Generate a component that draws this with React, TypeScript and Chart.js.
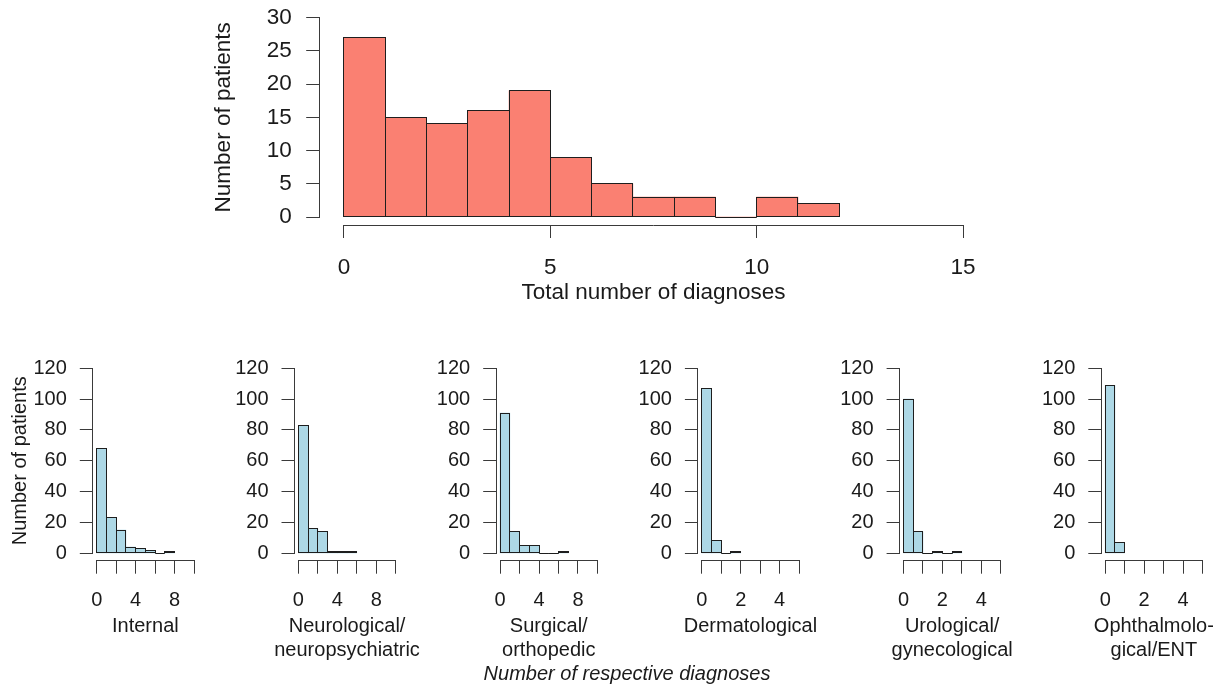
import React, { useEffect, useRef } from "react";
import { Chart, registerables } from "chart.js";

Chart.register(...registerables);

const FONT = "'Liberation Sans', Arial, Helvetica, sans-serif";
const TEXT = "#1a1a1a";
const AXIS = "#3a3a3a";
const EDGE = "#1e1e1e";
const SALMON = "#FA8072";
const LIGHTBLUE = "#ADD8E6";

// Total number of diagnoses per patient (bins of width 1)
const totalBreaks = [0, 1, 2, 3, 4, 5, 6, 7, 8, 9, 10, 11, 12];
const totalCounts = [27, 15, 14, 16, 19, 9, 5, 3, 3, 0, 3, 2];
const totalXTicks = [0, 5, 10, 15];
const totalYTicks = [0, 5, 10, 15, 20, 25, 30];

// Number of diagnoses per specialty
const internalBreaks = [0, 1, 2, 3, 4, 5, 6, 7, 8];
const internalCounts = [68, 23, 15, 4, 3, 2, 0, 1];
const neuroBreaks = [0, 1, 2, 3, 4, 5, 6];
const neuroCounts = [83, 16, 14, 1, 1, 1];
const surgicalBreaks = [0, 1, 2, 3, 4, 5, 6, 7];
const surgicalCounts = [91, 14, 5, 5, 0, 0, 1];
const dermBreaks = [0, 0.5, 1, 1.5, 2];
const dermCounts = [107, 8, 0, 1];
const uroBreaks = [0, 0.5, 1, 1.5, 2, 2.5, 3];
const uroCounts = [100, 14, 0, 1, 0, 1];
const ophthBreaks = [0, 0.5, 1];
const ophthCounts = [109, 7];

const wideXTicks = [0, 2, 4, 6, 8, 10];
const wideXLabels = [0, 4, 8];
const narrowXTicks = [0, 1, 2, 3, 4, 5];
const narrowXLabels = [0, 2, 4];
const smallYTicks = [0, 20, 40, 60, 80, 100, 120];

const specialtyNames = [
  ["Internal"],
  ["Neurological/", "neuropsychiatric"],
  ["Surgical/", "orthopedic"],
  ["Dermatological"],
  ["Urological/", "gynecological"],
  ["Ophthalmolo-", "gical/ENT"],
];
const specialtyBreaks = [internalBreaks, neuroBreaks, surgicalBreaks, dermBreaks, uroBreaks, ophthBreaks];
const specialtyCounts = [internalCounts, neuroCounts, surgicalCounts, dermCounts, uroCounts, ophthCounts];
const specialtyXTicks = [wideXTicks, wideXTicks, wideXTicks, narrowXTicks, narrowXTicks, narrowXTicks];
const specialtyXLabels = [wideXLabels, wideXLabels, wideXLabels, narrowXLabels, narrowXLabels, narrowXLabels];

type Area = { left: number; top: number; right: number; bottom: number };

type HistSpec = {
  breaks: number[];
  counts: number[];
  fill: string;
  xTicks: number[];
  xLabels: number[];
  yTicks: number[];
  fontSize: number;
  canvasW: number;
  canvasH: number;
  area: Area;
  tickLen: number;
  xTickPad: number;
  yTickPad: number;
  yTitle?: string;
  yTitleCenter?: number;
  xTitle?: string;
  xTitleCenter?: number;
  caption?: string[];
  captionOffset?: number;
};

// plot region spans the tick range plus 4% on each side
function rangeWithMargin(ticks: number[]) {
  const lo = ticks[0];
  const hi = ticks[ticks.length - 1];
  const m = (hi - lo) * 0.04;
  return { min: lo - m, max: hi + m };
}

function alignPx(v: number) {
  return Math.round(v - 0.5) + 0.5;
}

function histogramConfig(s: HistSpec): any {
  const lh = s.fontSize * 1.2;
  const xr = rangeWithMargin(s.xTicks);
  const yr = rangeWithMargin(s.yTicks);
  const padLeft = s.yTitle ? (s.yTitleCenter as number) - lh / 2 : 0;
  const padBottom = s.xTitle ? s.canvasH - ((s.xTitleCenter as number) + lh / 2) : 0;
  const yWidth = s.area.left - padLeft;
  const xHeight = s.canvasH - padBottom - s.area.bottom;
  const font = { family: FONT, size: s.fontSize, lineHeight: 1.2 };

  const data = s.counts.map((c, i) => ({ x: (s.breaks[i] + s.breaks[i + 1]) / 2, y: c }));

  const framePlugin = {
    id: "histFrame",
    afterDatasetsDraw(chart: any) {
      const { ctx, chartArea, scales } = chart;
      const x = scales.x;
      const y = scales.y;
      ctx.save();
      ctx.lineWidth = 1;
      ctx.lineCap = "butt";

      // each bin gets a thin outline, empty bins show as a flat line on the baseline
      ctx.strokeStyle = EDGE;
      const bars = chart.getDatasetMeta(0).data;
      bars.forEach((bar: any) => {
        const { x: cx, y: top, base, width } = bar.getProps(["x", "y", "base", "width"], true);
        const x1 = alignPx(cx - width / 2);
        const x2 = alignPx(cx + width / 2);
        const y1 = alignPx(top);
        const y2 = alignPx(base);
        ctx.strokeRect(x1, Math.min(y1, y2), x2 - x1, Math.abs(y2 - y1));
      });

      // axis lines run from the first to the last tick only
      ctx.strokeStyle = AXIS;
      const bx = alignPx(chartArea.bottom);
      ctx.beginPath();
      ctx.moveTo(alignPx(x.getPixelForValue(s.xTicks[0])) - 0.5, bx);
      ctx.lineTo(alignPx(x.getPixelForValue(s.xTicks[s.xTicks.length - 1])) + 0.5, bx);
      ctx.stroke();

      const ly = alignPx(chartArea.left);
      ctx.beginPath();
      ctx.moveTo(ly, alignPx(y.getPixelForValue(s.yTicks[0])) + 0.5);
      ctx.lineTo(ly, alignPx(y.getPixelForValue(s.yTicks[s.yTicks.length - 1])) - 0.5);
      ctx.stroke();

      // category caption under the x axis
      if (s.caption) {
        ctx.fillStyle = TEXT;
        ctx.font = `${s.fontSize}px ${FONT}`;
        ctx.textAlign = "center";
        ctx.textBaseline = "middle";
        const cx = (chartArea.left + chartArea.right) / 2;
        s.caption.forEach((line, k) => {
          ctx.fillText(line, cx, chartArea.bottom + (s.captionOffset as number) + k * lh);
        });
      }
      ctx.restore();
    },
  };

  const fixedTicks = (values: number[]) => (scale: any) => {
    scale.ticks = values.map((v) => ({ value: v }));
  };

  return {
    type: "bar",
    data: {
      datasets: [
        {
          data,
          backgroundColor: s.fill,
          borderWidth: 0,
          barPercentage: 1,
          categoryPercentage: 1,
        },
      ],
    },
    options: {
      responsive: false,
      animation: false,
      devicePixelRatio: 1,
      events: [],
      layout: {
        padding: {
          left: padLeft,
          top: s.area.top,
          right: s.canvasW - s.area.right,
          bottom: padBottom,
        },
      },
      plugins: {
        legend: { display: false },
        tooltip: { enabled: false },
      },
      scales: {
        x: {
          type: "linear",
          min: xr.min,
          max: xr.max,
          offset: false,
          afterBuildTicks: fixedTicks(s.xTicks),
          afterFit: (scale: any) => {
            scale.height = xHeight;
            scale.paddingLeft = 0;
            scale.paddingRight = 0;
          },
          grid: {
            display: true,
            offset: false,
            drawOnChartArea: false,
            drawTicks: true,
            tickLength: s.tickLen,
            color: AXIS,
            lineWidth: 1,
          },
          border: { display: false },
          ticks: {
            autoSkip: false,
            maxRotation: 0,
            minRotation: 0,
            padding: s.xTickPad,
            color: TEXT,
            font,
            callback: (v: number) => (s.xLabels.includes(v) ? String(v) : ""),
          },
          title: s.xTitle
            ? { display: true, text: s.xTitle, color: TEXT, font, padding: 0 }
            : { display: false },
        },
        y: {
          type: "linear",
          min: yr.min,
          max: yr.max,
          afterBuildTicks: fixedTicks(s.yTicks),
          afterFit: (scale: any) => {
            scale.width = yWidth;
            scale.paddingTop = 0;
            scale.paddingBottom = 0;
          },
          grid: {
            display: true,
            drawOnChartArea: false,
            drawTicks: true,
            tickLength: s.tickLen,
            color: AXIS,
            lineWidth: 1,
          },
          border: { display: false },
          ticks: {
            autoSkip: false,
            padding: s.yTickPad,
            color: TEXT,
            font,
            callback: (v: number) => String(v),
          },
          title: s.yTitle
            ? { display: true, text: s.yTitle, color: TEXT, font, padding: 0 }
            : { display: false },
        },
      },
    },
    plugins: [framePlugin],
  };
}

function Histogram({ spec, left, top }: { spec: HistSpec; left: number; top: number }) {
  const ref = useRef<HTMLCanvasElement | null>(null);
  useEffect(() => {
    const chart = new Chart(ref.current as HTMLCanvasElement, histogramConfig(spec));
    return () => chart.destroy();
  }, []);
  return (
    <canvas
      ref={ref}
      width={spec.canvasW}
      height={spec.canvasH}
      style={{ position: "absolute", left, top, width: spec.canvasW, height: spec.canvasH }}
    />
  );
}

const totalSpec: HistSpec = {
  breaks: totalBreaks,
  counts: totalCounts,
  fill: SALMON,
  xTicks: totalXTicks,
  xLabels: totalXTicks,
  yTicks: totalYTicks,
  fontSize: 22.5,
  canvasW: 1226,
  canvasH: 320,
  area: { left: 319.2, top: 9.7, right: 987.8, bottom: 225 },
  tickLen: 13,
  xTickPad: 16.5,
  yTickPad: 14.5,
  yTitle: "Number of patients",
  yTitleCenter: 224,
  xTitle: "Total number of diagnoses",
  xTitleCenter: 292.5,
};

const SMALL_TOP = 340;
const SMALL_H = 346;

const specialtySpecs = specialtyNames.map((name, i) => {
  const plotLeft = 92.8 + 201.7 * i;
  const canvasLeft = i === 0 ? 0 : Math.round(plotLeft - 100);
  const canvasW = Math.min(240, 1226 - canvasLeft);
  const areaLeft = plotLeft - canvasLeft;
  const spec: HistSpec = {
    breaks: specialtyBreaks[i],
    counts: specialtyCounts[i],
    fill: LIGHTBLUE,
    xTicks: specialtyXTicks[i],
    xLabels: specialtyXLabels[i],
    yTicks: smallYTicks,
    fontSize: 20,
    canvasW,
    canvasH: SMALL_H,
    area: { left: areaLeft, top: 360.9 - SMALL_TOP, right: areaLeft + 105.1, bottom: 560.7 - SMALL_TOP },
    tickLen: 13,
    xTickPad: 14.3,
    yTickPad: 13,
    yTitle: i === 0 ? "Number of patients" : undefined,
    yTitleCenter: i === 0 ? 20 : undefined,
    caption: name,
    captionOffset: 65.4,
  };
  return { spec, left: canvasLeft };
});

export default function App() {
  return (
    <div
      style={{
        position: "absolute",
        left: 0,
        top: 0,
        width: 1226,
        height: 686,
        overflow: "hidden",
        background: "#ffffff",
        fontFamily: FONT,
      }}
    >
      <Histogram spec={totalSpec} left={0} top={0} />
      {specialtySpecs.map(({ spec, left }, i) => (
        <Histogram key={i} spec={spec} left={left} top={SMALL_TOP} />
      ))}
      <div
        style={{
          position: "absolute",
          left: 327,
          top: 661,
          width: 600,
          textAlign: "center",
          fontSize: 20,
          lineHeight: "24px",
          fontStyle: "italic",
          color: TEXT,
          whiteSpace: "nowrap",
        }}
      >
        Number of respective diagnoses
      </div>
    </div>
  );
}
